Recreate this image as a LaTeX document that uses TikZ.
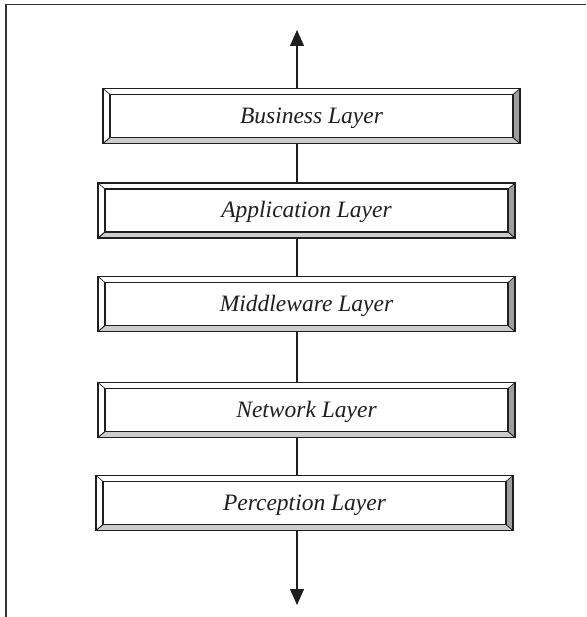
\documentclass[tikz,border=0pt]{standalone}
\usepackage{fontspec}
\setmainfont{Liberation Serif}
\usepackage{tikz}
\usetikzlibrary{arrows.meta}
\usepackage{xcolor}
\definecolor{Frame}{gray}{0.2}
\definecolor{Ink}{gray}{0.12}
\definecolor{Bevel Bottom}{gray}{0.8}
\definecolor{Bevel Right}{gray}{0.62}

\tikzset{
  layer/.style={rectangle, draw=Ink, line width=1.4pt, fill=white,
    minimum width=417pt, minimum height=55pt, inner sep=0pt,
    text height=15pt, text depth=0pt,
    text=Ink, font=\fontsize{23.5}{28}\selectfont\itshape,
    path picture={
      \path (path picture bounding box.south west) coordinate (o1)
            (path picture bounding box.north east) coordinate (o3);
      \path (o1) ++(7pt,6pt) coordinate (i1);
      \path (o3) ++(-7pt,-6pt) coordinate (i3);
      % bottom and right bevel
      \filldraw[Ink, fill=Bevel Bottom, line width=0.7pt] (o1) -- (o1 -| o3) -- (i1 -| i3) -- (i1) -- cycle;
      \filldraw[Ink, fill=Bevel Right, line width=0.7pt] (o1 -| o3) -- (o3) -- (i3) -- (i1 -| i3) -- cycle;
      % top and left bevel
      \draw[Ink, line width=0.7pt] (o1 |- o3) -- (i1 |- i3);
      \draw[Ink, line width=0.7pt] (o1) -- (i1);
      \draw[Ink, line width=1.4pt] (i1) rectangle (i3);
    }},
  link/.style={draw=Ink, line width=1.1pt},
  tip/.style={-{Triangle[width=14pt,length=16pt]}}
}

\begin{document}
\begin{tikzpicture}[x=1pt, y=-1pt]
\useasboundingbox (0,0) rectangle (586,617);

% Frame
\draw[Frame, line width=1.8pt] (586,4.5) -- (6,4.5) -- (6,617);

% Layers
\node[layer] (bus) at (311.5,116) {Business Layer};
\node[layer] (app) at (306.5,210.5) {Application Layer};
\node[layer] (mid) at (306.5,304) {Middleware Layer};
\node[layer] (net) at (306.5,410) {Network Layer};
\node[layer] (per) at (304.5,503) {Perception Layer};

% Axis
\coordinate (up) at (297,30);
\coordinate (down) at (297,605);

\draw[link, tip] (bus.north -| up) -- (up);
\draw[link] (bus.south -| up) -- (app.north -| up);
\draw[link] (app.south -| up) -- (mid.north -| up);
\draw[link] (mid.south -| up) -- (net.north -| up);
\draw[link] (net.south -| up) -- (per.north -| up);
\draw[link, tip] (per.south -| down) -- (down);

\end{tikzpicture}
\end{document}
